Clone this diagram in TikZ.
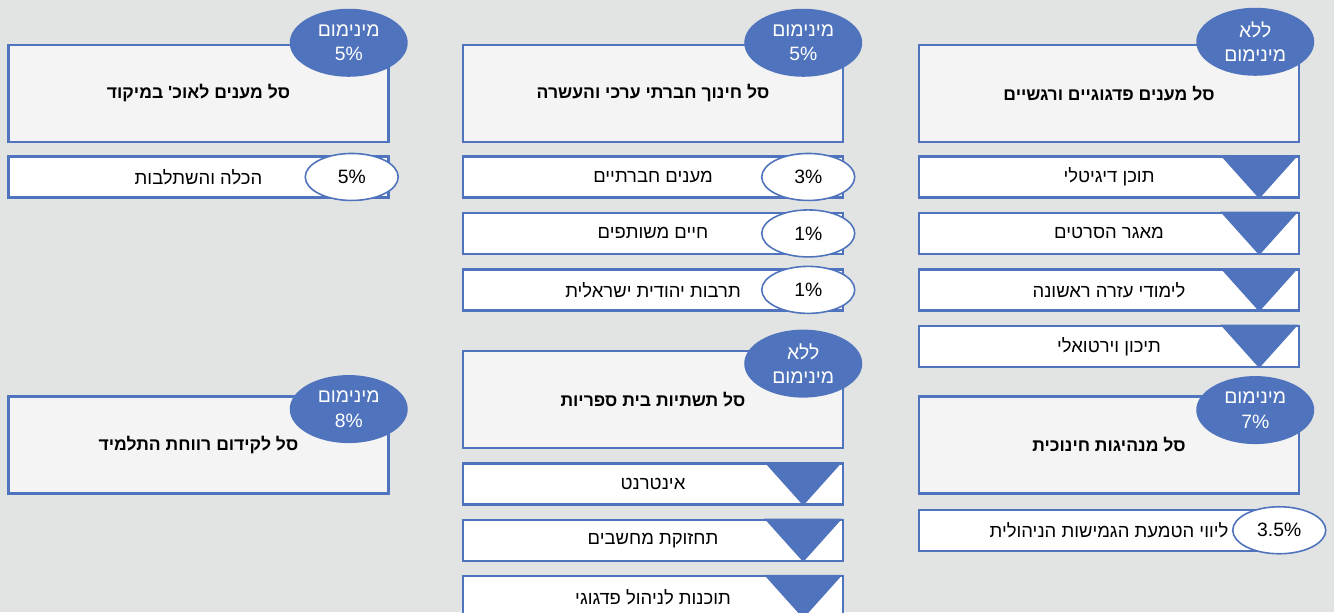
\documentclass[tikz,border=0pt]{standalone}
\usepackage{fontspec}
\setmainfont[Script=Hebrew]{Liberation Sans}
\TeXXeTstate=1
\usepackage{tikz}
\usetikzlibrary{positioning,shapes.geometric}

\definecolor{bluebar}{RGB}{79,115,188}
\definecolor{bgray}{RGB}{226,228,228}
\definecolor{hfill}{RGB}{244,244,244}

\tikzset{
  basket/.style={draw=bluebar,line width=1.4pt,fill=hfill,minimum width=7.6cm,minimum height=1.94cm,font=\bfseries\fontsize{10}{12}\selectfont},
  subbox/.style={draw=bluebar,line width=1.4pt,fill=white,minimum width=7.6cm,minimum height=0.82cm,font=\fontsize{10.5}{12}\selectfont},
  minlabel/.style={ellipse,fill=bluebar,text=white,minimum width=2.36cm,minimum height=1.36cm,inner sep=0pt,align=center,font=\fontsize{11}{14}\selectfont},
  share/.style={ellipse,draw=bluebar,line width=0.9pt,fill=white,minimum width=1.86cm,minimum height=0.94cm,inner sep=0pt,font=\fontsize{11}{13}\selectfont},
  notch/.style={fill=bluebar}
}

\begin{document}
\begin{tikzpicture}
              \clip (0,0) rectangle (26.68,-12.24);
              \fill[bgray] (0,0) rectangle (26.68,-12.24);

              %baskets, top row
              \node[basket] (c0) at (22.18,-1.87) {\beginR סל מענים פדגוגיים ורגשיים\endR};
              \node[basket] (b0) at (13.06,-1.87) {\beginR סל חינוך חברתי ערכי והעשרה\endR};
              \node[basket] (a0) at (3.97,-1.87) {\beginR סל מענים לאוכ\textquotesingle{} במיקוד\endR};

              %right column
              \node[subbox,below=0.24cm of c0] (c1) {\beginR תוכן דיגיטלי\endR};
              \node[subbox,below=0.26cm of c1] (c2) {\beginR מאגר הסרטים\endR};
              \node[subbox,below=0.26cm of c2] (c3) {\beginR לימודי עזרה ראשונה\endR};
              \node[subbox,below=0.26cm of c3] (c4) {\beginR תיכון וירטואלי\endR};
              \node[basket,below=0.54cm of c4] (c5) {\beginR סל מנהיגות חינוכית\endR};
              \node[subbox,below=0.28cm of c5] (c6) {\beginR ליווי הטמעת הגמישות הניהולית\endR};

              %middle column
              \node[subbox,below=0.24cm of b0] (b1) {\beginR מענים חברתיים\endR};
              \node[subbox,below=0.26cm of b1] (b2) {\beginR חיים משותפים\endR};
              \node[subbox,below=0.26cm of b2] (b3) {\beginR תרבות יהודית ישראלית\endR};
              \node[basket,below=0.76cm of b3] (b4) {\beginR סל תשתיות בית ספריות\endR};
              \node[subbox,below=0.26cm of b4] (b5) {\beginR אינטרנט\endR};
              \node[subbox,below=0.26cm of b5] (b6) {\beginR תחזוקת מחשבים\endR};
              \node[subbox,below=0.26cm of b6] (b7) {\beginR תוכנות לניהול פדגוגי\endR};

              %left column
              \node[subbox,below=0.24cm of a0] (a1) {\beginR הכלה והשתלבות\endR};
              \node[basket] (a2) at (a1 |- c5) {\beginR סל לקידום רווחת התלמיד\endR};

              %minimum tags
              \node[minlabel] (c0t) at ([xshift=-0.9cm,yshift=0.04cm]c0.north east) {\beginR ללא\endR\\\beginR מינימום\endR};
              \node[minlabel] (b0t) at ([xshift=-0.82cm,yshift=0.02cm]b0.north east) {\beginR מינימום\endR\\5\%};
              \node[minlabel] (a0t) at ([xshift=-0.82cm,yshift=0.02cm]a0.north east) {\beginR מינימום\endR\\5\%};
              \node[minlabel] (c5t) at ([xshift=-0.9cm,yshift=-0.3cm]c5.north east) {\beginR מינימום\endR\\7\%};
              \node[minlabel] (b4t) at ([xshift=-0.82cm,yshift=-0.28cm]b4.north east) {\beginR ללא\endR\\\beginR מינימום\endR};
              \node[minlabel] (a2t) at ([xshift=-0.82cm,yshift=-0.28cm]a2.north east) {\beginR מינימום\endR\\8\%};

              %shares
              \node[share] (b1s) at ([xshift=-0.72cm]b1.east) {3\%};
              \node[share] (b2s) at ([xshift=-0.72cm]b2.east) {1\%};
              \node[share] (b3s) at ([xshift=-0.72cm]b3.east) {1\%};
              \node[share] (a1s) at ([xshift=-0.76cm]a1.east) {5\%};
              \node[share] (c6s) at ([xshift=-0.42cm]c6.east) {3.5\%};

              %notches
              \fill[notch] ([xshift=-1.6cm]c1.north east) -- ([xshift=-0.04cm]c1.north east) -- ([xshift=-0.82cm]c1.south east) -- cycle;
              \fill[notch] ([xshift=-1.6cm]c2.north east) -- ([xshift=-0.04cm]c2.north east) -- ([xshift=-0.82cm]c2.south east) -- cycle;
              \fill[notch] ([xshift=-1.6cm]c3.north east) -- ([xshift=-0.04cm]c3.north east) -- ([xshift=-0.82cm]c3.south east) -- cycle;
              \fill[notch] ([xshift=-1.6cm]c4.north east) -- ([xshift=-0.04cm]c4.north east) -- ([xshift=-0.82cm]c4.south east) -- cycle;
              \fill[notch] ([xshift=-1.6cm]b5.north east) -- ([xshift=-0.04cm]b5.north east) -- ([xshift=-0.82cm]b5.south east) -- cycle;
              \fill[notch] ([xshift=-1.6cm]b6.north east) -- ([xshift=-0.04cm]b6.north east) -- ([xshift=-0.82cm]b6.south east) -- cycle;
              \fill[notch] ([xshift=-1.6cm]b7.north east) -- ([xshift=-0.04cm]b7.north east) -- ([xshift=-0.82cm]b7.south east) -- cycle;

            \end{tikzpicture}
\end{document}
